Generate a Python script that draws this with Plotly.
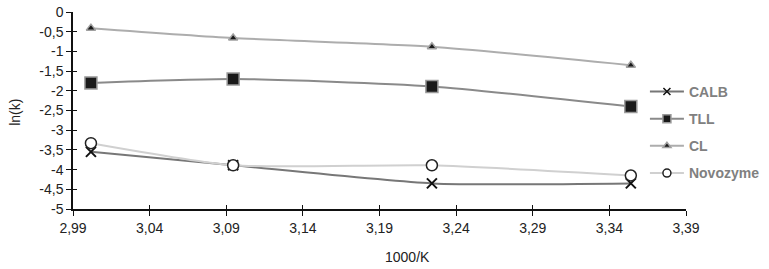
import plotly.graph_objects as go

x_vals = [3.0017, 3.0945, 3.2242, 3.3540]
calb = [-3.55, -3.89, -4.35, -4.35]
tll = [-1.80, -1.70, -1.89, -2.40]
cl = [-0.41, -0.66, -0.88, -1.35]
novozyme = [-3.33, -3.89, -3.89, -4.15]

x_ticks = [2.99, 3.04, 3.09, 3.14, 3.19, 3.24, 3.29, 3.34, 3.39]
x_tick_labels = ["2,99", "3,04", "3,09", "3,14", "3,19", "3,24", "3,29", "3,34", "3,39"]
y_ticks = [0, -0.5, -1, -1.5, -2, -2.5, -3, -3.5, -4, -4.5, -5]
y_tick_labels = ["0", "-0,5", "-1", "-1,5", "-2", "-2,5", "-3", "-3,5", "-4", "-4,5", "-5"]

FONT = "Liberation Sans, Arial, sans-serif"

fig = go.Figure()

series = [
    # name, values, line color, symbol, size, legend size, fill, border, border width
    ("CALB", calb, "#777777", "x-thin", 10, 7, "#111111", "#111111", 2),
    ("TLL", tll, "#8a8a8a", "square", 12, 8, "#1a1a1a", "#9a9a9a", 1.5),
    ("CL", cl, "#adadad", "triangle-up", 8, 7, "#1a1a1a", "#a0a0a0", 1.5),
    ("Novozyme", novozyme, "#d0d0d0", "circle", 11, 8, "#ffffff", "#222222", 1.5),
]

for i, (name, y, lc, sym, sz, lsz, fill, border, bw) in enumerate(series):
    fig.add_trace(go.Scatter(
        x=x_vals, y=y, name=name, mode="lines+markers", showlegend=False,
        line=dict(color=lc, width=2, shape="spline", smoothing=0.6),
        marker=dict(symbol=sym, size=sz, color=fill, line=dict(color=border, width=bw)),
    ))
for i, (name, y, lc, sym, sz, lsz, fill, border, bw) in enumerate(series):
    fig.add_trace(go.Scatter(
        x=[None], y=[None], name=name, mode="lines+markers", legendgroup=f"g{i}",
        line=dict(color=lc, width=2),
        marker=dict(symbol=sym, size=lsz, color=fill,
                    line=dict(color=border, width=min(bw, 1.5))),
    ))

axis_common = dict(showgrid=False, zeroline=False, showline=True, linecolor="#111111",
                   linewidth=1.5, ticks="outside", ticklen=5, tickcolor="#111111",
                   tickwidth=1, automargin=False,
                   tickfont=dict(family=FONT, size=14, color="#222222"))

fig.update_layout(
    width=769, height=269,
    margin=dict(l=73, r=83, t=12, b=60, autoexpand=False),
    paper_bgcolor="white", plot_bgcolor="white",
    font=dict(family=FONT, size=14, color="#222222"),
    xaxis=dict(range=[2.99, 3.39], tickvals=x_ticks, ticktext=x_tick_labels, **axis_common),
    xaxis2=dict(range=[2.99, 3.39], overlaying="x", side="bottom", tickvals=x_ticks,
                showticklabels=False, showgrid=False, zeroline=False, showline=False,
                ticks="inside", ticklen=4, tickcolor="#111111", automargin=False),
    yaxis=dict(range=[-5, 0], tickvals=y_ticks, ticktext=y_tick_labels, **axis_common),
    yaxis2=dict(range=[-5, 0], overlaying="y", side="left", tickvals=y_ticks,
                showticklabels=False, showgrid=False, zeroline=False, showline=False,
                ticks="inside", ticklen=4, tickcolor="#111111", automargin=False),
    legend=dict(x=0.933, y=0.676, xanchor="left", yanchor="top",
                font=dict(family=FONT, size=14, color="#808080", weight="bold"),
                tracegroupgap=6, bgcolor="rgba(0,0,0,0)", itemwidth=34,
                borderwidth=0),
    showlegend=True,
    annotations=[
        dict(text="ln(k)", xref="paper", yref="paper", x=-0.094, y=0.49, textangle=-90,
             showarrow=False, font=dict(family=FONT, size=14, color="#222222"),
             xanchor="center", yanchor="middle"),
        dict(text="1000/K", xref="paper", yref="paper", x=0.546, y=-0.245,
             showarrow=False, font=dict(family=FONT, size=14, color="#222222"),
             xanchor="center", yanchor="middle"),
    ],
)
fig.add_trace(go.Scatter(x=[None], y=[None], xaxis="x2", yaxis="y2",
                         showlegend=False, hoverinfo="skip"))

fig.write_html("out.html", config={"displayModeBar": False},
               post_script="document.body.style.margin='0';")
